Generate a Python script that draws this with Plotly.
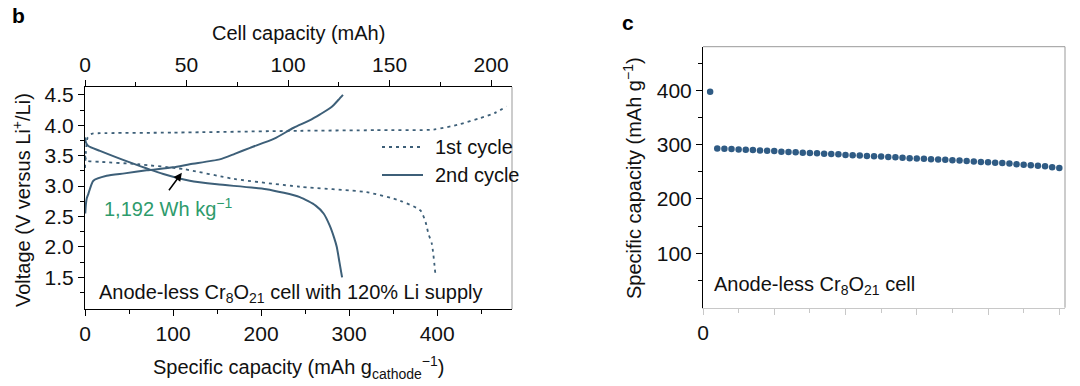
import plotly.graph_objects as go

# ---------------- data: panel b ----------------
c2_charge_cap = [0.3, 1, 2, 3.75, 9.5, 24.6, 45, 70, 100, 119, 153, 170, 187.5, 215, 237, 255, 267, 280, 288, 293]
c2_charge_v = [2.55, 2.7, 2.8, 2.87, 3.09, 3.17, 3.21, 3.26, 3.31, 3.36, 3.44, 3.53, 3.63, 3.78, 3.96, 4.08, 4.18, 4.30, 4.42, 4.50]

c2_dis_cap = [0, 1, 3.75, 17, 51, 89, 119, 150, 206, 244, 262, 271, 278, 283, 286, 289, 292]
c2_dis_v = [3.80, 3.72, 3.66, 3.58, 3.39, 3.20, 3.09, 3.03, 2.95, 2.82, 2.68, 2.55, 2.35, 2.15, 2.00, 1.75, 1.50]

c1_charge_cap = [0, 1, 3, 7.6, 17, 100, 244, 330, 396, 426, 449, 465, 479]
c1_charge_v = [3.30, 3.55, 3.80, 3.86, 3.87, 3.88, 3.91, 3.92, 3.93, 4.02, 4.12, 4.20, 4.31]

c1_dis_cap = [0, 2, 17, 60, 112, 169, 244, 320, 358, 381, 387, 390, 394, 398]
c1_dis_v = [3.50, 3.42, 3.40, 3.36, 3.28, 3.12, 2.99, 2.90, 2.76, 2.60, 2.40, 2.22, 2.05, 1.55]

legend_labels = ["1st cycle", "2nd cycle"]

spec_ticks = [0, 100, 200, 300, 400]
spec_minor = [50, 150, 250, 350, 450]
cell_ticks = [0, 50, 100, 150, 200]
cell_minor = [25, 75, 125, 175]
volt_ticks = [1.5, 2.0, 2.5, 3.0, 3.5, 4.0, 4.5]
volt_minor = [1.25, 1.75, 2.25, 2.75, 3.25, 3.75, 4.25]

# ---------------- data: panel c ----------------
cycles = list(range(1, 51))
cyc_capacity = [397, 293, 292.5, 292, 291, 290.5, 290, 289, 288.5, 288,
                287, 286.5, 286, 285, 284.5, 284, 283, 282.5, 282, 281,
                280.5, 280, 279, 278.5, 278, 277, 276.5, 276, 275, 274.5,
                274, 273, 272.5, 272, 271, 270.5, 270, 269, 268, 267.5,
                266.5, 266, 265, 264, 263, 262, 261, 260, 258.5, 257]
cyc_ticks = [0, 10, 20, 30, 40, 50]
cyc_minor = [5, 15, 25, 35, 45]
cap_ticks = [100, 200, 300, 400]
cap_minor = [50, 150, 250, 350, 450]

LINE = "#3d5f78"
MARK = "#2f5b84"
GREEN = "#2e9b6c"
FONT = "Liberation Sans, Arial, Helvetica, sans-serif"
FS = 20
TFS = 21
DOT = "3px,4px"

W, H = 1080, 386
def px(x):
    return x / W
def py(y):
    return 1 - y / H

fig = go.Figure()

fig.add_trace(go.Scatter(x=c1_charge_cap, y=c1_charge_v, mode="lines",
                         line=dict(color=LINE, width=1.8, dash=DOT, shape="spline", smoothing=0.6),
                         name=legend_labels[0], showlegend=False, xaxis="x", yaxis="y"))
fig.add_trace(go.Scatter(x=c1_dis_cap, y=c1_dis_v, mode="lines",
                         line=dict(color=LINE, width=1.8, dash=DOT, shape="spline", smoothing=0.6),
                         name=legend_labels[0], showlegend=False, xaxis="x", yaxis="y"))
fig.add_trace(go.Scatter(x=c2_charge_cap, y=c2_charge_v, mode="lines",
                         line=dict(color=LINE, width=2, shape="spline", smoothing=0.6),
                         name=legend_labels[1], showlegend=False, xaxis="x", yaxis="y"))
fig.add_trace(go.Scatter(x=c2_dis_cap, y=c2_dis_v, mode="lines",
                         line=dict(color=LINE, width=2, shape="spline", smoothing=0.6),
                         name=legend_labels[1], showlegend=False, xaxis="x", yaxis="y"))
# invisible trace to keep the top axis active
fig.add_trace(go.Scatter(x=[0], y=[None], mode="markers", showlegend=False,
                         hoverinfo="skip", xaxis="x3", yaxis="y"))

fig.add_trace(go.Scatter(x=cycles, y=cyc_capacity, mode="markers",
                         marker=dict(color=MARK, size=6.5, line=dict(width=0)),
                         showlegend=False, xaxis="x2", yaxis="y2"))

axis_common = dict(showgrid=False, zeroline=False, showline=True, linecolor="black",
                   linewidth=1, ticks="outside", ticklen=6, tickwidth=1, tickcolor="black",
                   tickfont=dict(family=FONT, size=TFS, color="#111"), tickmode="array",
                   automargin=False)

fig.update_layout(
    width=W, height=H,
    margin=dict(l=0, r=0, t=0, b=0),
    paper_bgcolor="white", plot_bgcolor="white",
    font=dict(family=FONT, size=FS, color="#111"),
    showlegend=False,
    xaxis=dict(domain=[px(85), px(512)], range=[0, 485], anchor="y",
               tickvals=spec_ticks, ticktext=[str(v) for v in spec_ticks],
               minor=dict(tickvals=spec_minor, ticks="outside", ticklen=4, tickcolor="black"),
               **axis_common),
    xaxis3=dict(overlaying="x", side="top", anchor="y", range=[0, 210.3],
                tickvals=cell_ticks, ticktext=[str(v) for v in cell_ticks],
                minor=dict(tickvals=cell_minor, ticks="outside", ticklen=4, tickcolor="black"),
                **axis_common),
    yaxis=dict(domain=[py(309), py(87)], range=[0.98, 4.63], anchor="x",
               tickvals=volt_ticks, ticktext=[f"{v:.1f}" for v in volt_ticks],
               minor=dict(tickvals=volt_minor, ticks="outside", ticklen=4, tickcolor="black"),
               **axis_common),
    xaxis2=dict(domain=[px(703), px(1065)], range=[0, 50.8], anchor="y2",
                tickvals=cyc_ticks, ticktext=["0"] + [""]*(len(cyc_ticks)-1),
                minor=dict(tickvals=cyc_minor, ticks="outside", ticklen=4, tickcolor="#c8c8c8"),
                **{**axis_common, "linecolor": "#c8c8c8", "tickcolor": "#c8c8c8"}),
    yaxis2=dict(domain=[py(307.7), py(46.7)], range=[0, 480], anchor="x2",
                tickvals=cap_ticks, ticktext=[str(v) for v in cap_ticks],
                minor=dict(tickvals=cap_minor, ticks="outside", ticklen=4, tickcolor="black"),
                **axis_common),
)

# frame edges (gray)
fig.add_shape(type="line", xref="x domain", yref="y domain", x0=1, x1=1, y0=0, y1=1,
              line=dict(color="#999999", width=1))
fig.add_shape(type="line", xref="x2 domain", yref="y2 domain", x0=1, x1=1, y0=0, y1=1,
              line=dict(color="#999999", width=1))
fig.add_shape(type="line", xref="x2 domain", yref="y2 domain", x0=0, x1=1, y0=1, y1=1,
              line=dict(color="#999999", width=1))

# legend (drawn manually to match the sample length)
fig.add_shape(type="line", xref="paper", yref="paper", x0=px(382), x1=px(423), y0=py(147), y1=py(147),
              line=dict(color=LINE, width=1.8, dash=DOT))
fig.add_shape(type="line", xref="paper", yref="paper", x0=px(382), x1=px(423), y0=py(175), y1=py(175),
              line=dict(color=LINE, width=2))

ann = []
ann.append(dict(x=px(433), y=py(147), xref="paper", yref="paper", text=legend_labels[0],
                showarrow=False, xanchor="left", yanchor="middle"))
ann.append(dict(x=px(433), y=py(175), xref="paper", yref="paper", text=legend_labels[1],
                showarrow=False, xanchor="left", yanchor="middle"))
# panel letters
ann.append(dict(x=px(10), y=py(15), xref="paper", yref="paper", text="<b>b</b>",
                showarrow=False, xanchor="left", yanchor="middle", font=dict(size=21, color="black")))
ann.append(dict(x=px(620), y=py(23), xref="paper", yref="paper", text="<b>c</b>",
                showarrow=False, xanchor="left", yanchor="middle", font=dict(size=21, color="black")))
# axis titles
ann.append(dict(x=px(298), y=py(33), xref="paper", yref="paper", text="Cell capacity (mAh)",
                showarrow=False, xanchor="center", yanchor="middle"))
ann.append(dict(x=px(298), y=py(367), xref="paper", yref="paper",
                text="Specific capacity (mAh g<sub>cathode</sub><sup>−1</sup>)",
                showarrow=False, xanchor="center", yanchor="middle"))
ann.append(dict(x=px(22), y=py(200), xref="paper", yref="paper",
                text="Voltage (V versus Li<sup>+</sup>/Li)", textangle=-90,
                showarrow=False, xanchor="center", yanchor="middle"))
ann.append(dict(x=px(632), y=py(178), xref="paper", yref="paper",
                text="Specific capacity (mAh g<sup>−1</sup>)", textangle=-90,
                showarrow=False, xanchor="center", yanchor="middle"))
# in-plot labels
ann.append(dict(x=px(97), y=py(293), xref="paper", yref="paper",
                text="Anode-less Cr<sub>8</sub>O<sub>21</sub> cell with 120% Li supply",
                showarrow=False, xanchor="left", yanchor="middle"))
ann.append(dict(x=px(712), y=py(285), xref="paper", yref="paper",
                text="Anode-less Cr<sub>8</sub>O<sub>21</sub> cell",
                showarrow=False, xanchor="left", yanchor="middle"))
ann.append(dict(x=px(168), y=py(207), xref="paper", yref="paper",
                text="1,192 Wh kg<sup>−1</sup>", font=dict(color=GREEN, size=FS),
                showarrow=False, xanchor="center", yanchor="middle"))
# arrow
ann.append(dict(x=110, y=3.22, xref="x", yref="y", text="", showarrow=True,
                ax=-14, ay=19, arrowhead=2, arrowsize=1.1, arrowwidth=1.5, arrowcolor="black"))
fig.update_layout(annotations=ann)

fig.write_html("out.html", config={"displayModeBar": False},
               post_script="document.body.style.margin='0';document.body.style.overflow='hidden';")
